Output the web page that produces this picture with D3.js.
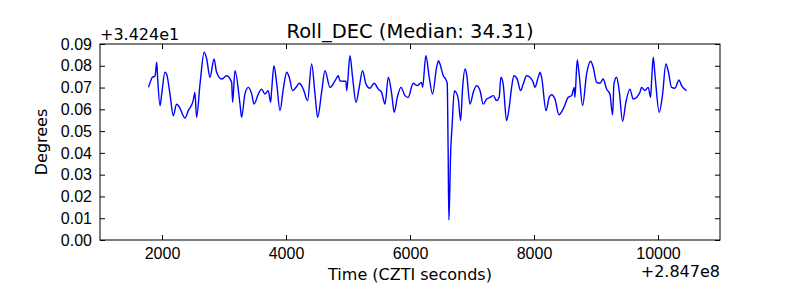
<!DOCTYPE html>
<html>
<head>
<meta charset="utf-8">
<script src="https://cdn.jsdelivr.net/npm/d3@7"></script>
<style>
  body { margin: 0; background: #fff; }
  svg { font-family: "DejaVu Sans", sans-serif; }
  .axis path { display: none; }
  .axis line { stroke: #000; }
  .axis text { font-size: 16px; fill: #000; }
</style>
</head>
<body>
<svg id="chart" width="800" height="300"></svg>
<script>
// time in seconds, relative to 2.847e8
const timeOffsets = [
  1780, 1805, 1844, 1887, 1915, 1929, 1968, 1995, 2048, 2074,
  2129, 2182, 2235, 2277, 2371, 2424, 2503, 2531, 2558, 2613,
  2681, 2721, 2774, 2839, 2881, 2963, 3042, 3123, 3139, 3177,
  3258, 3284, 3337, 3392, 3447, 3484, 3553, 3606, 3661, 3713,
  3752, 3768, 3806, 3848, 3903, 3956, 4011, 4052, 4106, 4161,
  4214, 4279, 4348, 4413, 4468, 4510, 4574, 4629, 4710, 4790,
  4844, 4871, 4924, 4967, 4979, 5032, 5074, 5129, 5181, 5235,
  5290, 5355, 5423, 5487, 5542, 5597, 5650, 5705, 5745, 5795,
  5855, 5919, 5971, 6051, 6116, 6187, 6203, 6256, 6310, 6364,
  6429, 6461, 6484, 6537, 6575, 6600, 6615, 6627, 6640, 6652,
  6680, 6715, 6750, 6779, 6816, 6849, 6887, 6913, 6968, 7021,
  7074, 7129, 7181, 7236, 7290, 7344, 7397, 7438, 7466, 7503,
  7558, 7600, 7639, 7676, 7729, 7784, 7826, 7881, 7935, 7987,
  8014, 8068, 8097, 8123, 8194, 8245, 8284, 8338, 8403, 8471,
  8552, 8607, 8649, 8660, 8697, 8725, 8784, 8848, 8914, 8955,
  9010, 9065, 9116, 9171, 9224, 9268, 9289, 9332, 9374, 9429,
  9482, 9547, 9600, 9655, 9709, 9735, 9789, 9842, 9881, 9897,
  9923, 9950, 10020, 10074, 10127, 10164, 10219, 10274, 10338, 10380,
  10461
];

// roll in degrees, relative to 34.24
const rollOffsets = [
  0.0701, 0.0720, 0.0747, 0.0752, 0.0816, 0.0747, 0.0617, 0.0670, 0.0770, 0.0762,
  0.0670, 0.0571, 0.0624, 0.0612, 0.0560, 0.0594, 0.0640, 0.0678, 0.0563, 0.0716,
  0.0862, 0.0831, 0.0747, 0.0831, 0.0770, 0.0739, 0.0754, 0.0724, 0.0632, 0.0777,
  0.0624, 0.0563, 0.0670, 0.0701, 0.0670, 0.0624, 0.0670, 0.0693, 0.0670, 0.0686,
  0.0632, 0.0686, 0.0800, 0.0724, 0.0594, 0.0693, 0.0770, 0.0747, 0.0686, 0.0701,
  0.0720, 0.0693, 0.0640, 0.0808, 0.0670, 0.0563, 0.0678, 0.0777, 0.0701, 0.0731,
  0.0754, 0.0731, 0.0729, 0.0729, 0.0686, 0.0846, 0.0747, 0.0632, 0.0701, 0.0777,
  0.0716, 0.0697, 0.0720, 0.0693, 0.0678, 0.0624, 0.0747, 0.0670, 0.0586, 0.0655,
  0.0701, 0.0663, 0.0655, 0.0720, 0.0709, 0.0724, 0.0701, 0.0846, 0.0747, 0.0670,
  0.0793, 0.0823, 0.0808, 0.0754, 0.0739, 0.0720, 0.0413, 0.0092, 0.0207, 0.0367,
  0.0528, 0.0684, 0.0675, 0.0647, 0.0548, 0.0701, 0.0785, 0.0762, 0.0624, 0.0678,
  0.0709, 0.0686, 0.0624, 0.0647, 0.0655, 0.0663, 0.0640, 0.0655, 0.0747, 0.0716,
  0.0548, 0.0609, 0.0701, 0.0754, 0.0739, 0.0686, 0.0716, 0.0754, 0.0747, 0.0724,
  0.0701, 0.0747, 0.0770, 0.0747, 0.0594, 0.0655, 0.0667, 0.0647, 0.0575, 0.0602,
  0.0655, 0.0663, 0.0701, 0.0655, 0.0827, 0.0770, 0.0617, 0.0762, 0.0821, 0.0793,
  0.0724, 0.0720, 0.0739, 0.0693, 0.0670, 0.0575, 0.0716, 0.0747, 0.0686, 0.0545,
  0.0632, 0.0693, 0.0647, 0.0655, 0.0678, 0.0701, 0.0686, 0.0701, 0.0655, 0.0731,
  0.0839, 0.0762, 0.0586, 0.0670, 0.0808, 0.0777, 0.0701, 0.0697, 0.0735, 0.0709,
  0.0686
];

const xTicks = [2000, 4000, 6000, 8000, 10000];
const yTicks = [0, 0.01, 0.02, 0.03, 0.04, 0.05, 0.06, 0.07, 0.08, 0.09];

const data = timeOffsets.map((t, i) => ({ t: t, v: rollOffsets[i] }));

const width = 800;
const height = 300;
const margin = { top: 44, right: 80, bottom: 60, left: 100 };

const svg = d3.select("#chart");

const x = d3.scaleLinear()
    .domain([1000, 11000])
    .range([margin.left, width - margin.right]);

const y = d3.scaleLinear()
    .domain([0, 0.09])
    .range([height - margin.bottom, margin.top]);

// data line
const line = d3.line()
    .x(d => x(d.t))
    .y(d => y(d.v))
    .curve(d3.curveMonotoneX);

svg.append("path")
    .datum(data)
    .attr("fill", "none")
    .attr("stroke", "#0000ff")
    .attr("stroke-width", 1.4)
    .attr("stroke-linejoin", "round")
    .attr("d", line);

// ticks pointing inward on all four sides
svg.append("g")
    .attr("class", "axis")
    .attr("transform", `translate(0, ${height - margin.bottom})`)
    .call(d3.axisBottom(x).tickValues(xTicks).tickSize(-5).tickPadding(8).tickFormat(d3.format("d")));

svg.append("g")
    .attr("class", "axis")
    .attr("transform", `translate(0, ${margin.top})`)
    .call(d3.axisTop(x).tickValues(xTicks).tickSize(-5).tickFormat(""));

svg.append("g")
    .attr("class", "axis")
    .attr("transform", `translate(${margin.left}, 0)`)
    .call(d3.axisLeft(y).tickValues(yTicks).tickSize(-5).tickPadding(8).tickFormat(d3.format(".2f")));

svg.append("g")
    .attr("class", "axis")
    .attr("transform", `translate(${width - margin.right}, 0)`)
    .call(d3.axisRight(y).tickValues(yTicks).tickSize(-5).tickFormat(""));

// frame
svg.append("rect")
    .attr("x", margin.left)
    .attr("y", margin.top)
    .attr("width", width - margin.left - margin.right)
    .attr("height", height - margin.top - margin.bottom)
    .attr("fill", "none")
    .attr("stroke", "#000")
    .attr("stroke-width", 1);

// offset texts
svg.append("text")
    .attr("x", margin.left)
    .attr("y", margin.top - 4)
    .attr("font-size", "16px")
    .text("+3.424e1");

svg.append("text")
    .attr("x", width - margin.right)
    .attr("y", 277)
    .attr("text-anchor", "end")
    .attr("font-size", "16px")
    .text("+2.847e8");

// titles
svg.append("text")
    .attr("x", (margin.left + width - margin.right) / 2)
    .attr("y", 38)
    .attr("text-anchor", "middle")
    .attr("font-size", "19.5px")
    .text("Roll_DEC (Median: 34.31)");

svg.append("text")
    .attr("x", (margin.left + width - margin.right) / 2)
    .attr("y", 280)
    .attr("text-anchor", "middle")
    .attr("font-size", "16px")
    .text("Time (CZTI seconds)");

svg.append("text")
    .attr("transform", `translate(47, ${(margin.top + height - margin.bottom) / 2}) rotate(-90)`)
    .attr("text-anchor", "middle")
    .attr("font-size", "16px")
    .text("Degrees");
</script>
</body>
</html>
